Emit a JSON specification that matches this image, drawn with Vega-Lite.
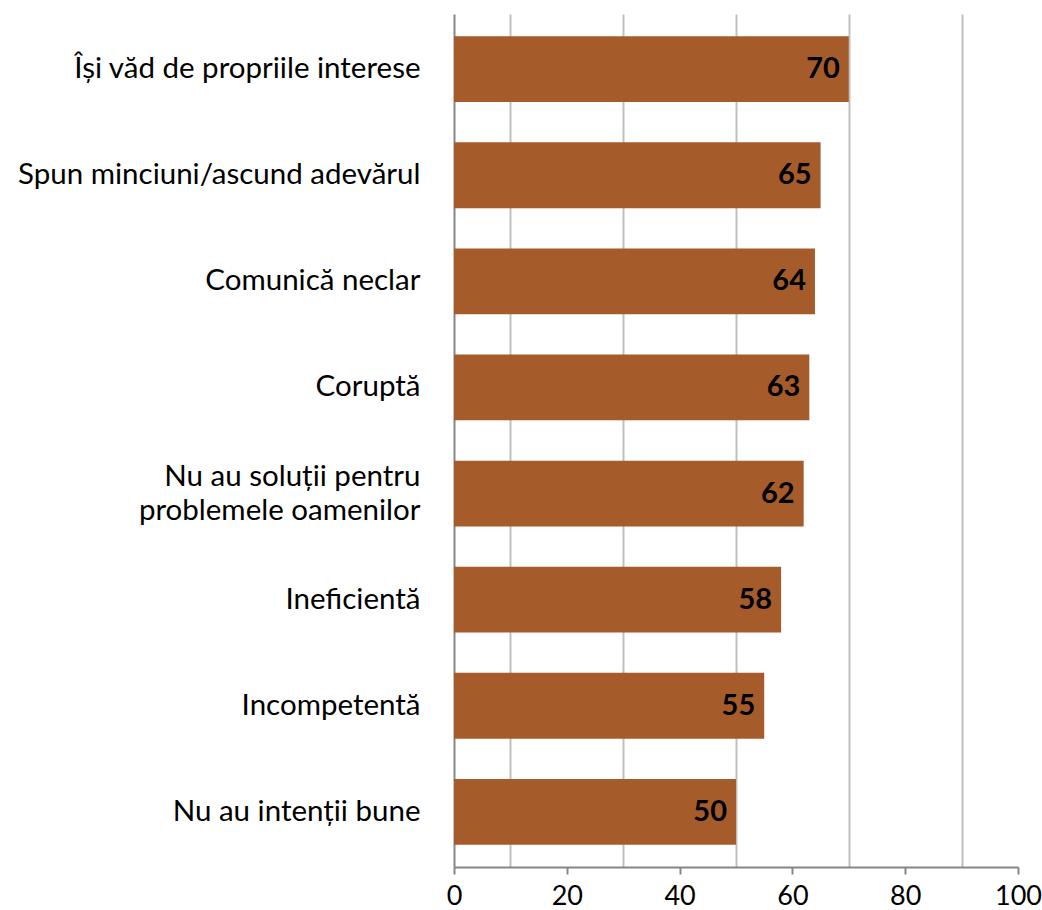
{
  "$schema": "https://vega.github.io/schema/vega-lite/v6.json",
  "width": 564,
  "height": 853,
  "autosize": {"type": "none"},
  "padding": {"left": 454, "top": 14, "right": 24, "bottom": 43},
  "background": "white",
  "config": {
    "view": {"stroke": null},
    "font": "Lato",
    "axis": {"labelFont": "Lato", "labelColor": "#000000"}
  },
  "data": {
    "values": [
      {"cat": "Își văd de propriile interese", "val": 70},
      {"cat": "Spun minciuni/ascund adevărul", "val": 65},
      {"cat": "Comunică neclar", "val": 64},
      {"cat": "Coruptă", "val": 63},
      {"cat": "Nu au soluții pentru\u00a0|problemele oamenilor", "val": 62},
      {"cat": "Ineficientă", "val": 58},
      {"cat": "Incompetentă", "val": 55},
      {"cat": "Nu au intenții bune", "val": 50}
    ]
  },
  "encoding": {
    "y": {
      "field": "cat",
      "type": "nominal",
      "sort": null,
      "scale": {"paddingInner": 0.38, "paddingOuter": 0.21},
      "axis": {
        "title": null,
        "ticks": false,
        "domain": true,
        "domainColor": "#868686",
        "domainWidth": 2,
        "labelFontSize": 29.5,
        "labelPadding": 34,
        "labelLimit": 500,
        "labelLineHeight": 34,
        "labelOffset": {"condition": {"test": "indexof(datum.value, '|') >= 0", "value": -17}, "value": 0},
        "labelExpr": "split(datum.value, '|')"
      }
    }
  },
  "layer": [
    {
      "mark": {"type": "bar", "color": "#A65B2B"},
      "encoding": {
        "x": {
          "field": "val",
          "type": "quantitative",
          "scale": {"domain": [0, 100], "nice": false},
          "axis": {
            "title": null,
            "values": [0, 20, 40, 60, 80, 100],
            "grid": false,
            "domainColor": "#868686",
            "domainWidth": 2,
            "tickColor": "#868686",
            "tickWidth": 2,
            "tickSize": 7,
            "labelFontSize": 27,
            "labelPadding": 9,
            "labelFlush": false
          }
        }
      }
    },
    {
      "mark": {"type": "text", "align": "right", "baseline": "middle", "dx": -9, "fontSize": 29, "fontWeight": "bold", "color": "#000000"},
      "encoding": {
        "x": {
          "field": "val",
          "type": "quantitative",
          "axis": {
            "orient": "top",
            "values": [10, 30, 50, 70, 90],
            "grid": true,
            "gridColor": "#BFBFBF",
            "gridWidth": 2,
            "labels": false,
            "ticks": false,
            "domain": false,
            "title": null
          }
        },
        "text": {"field": "val", "type": "quantitative"}
      }
    }
  ],
  "resolve": {"axis": {"x": "independent"}}
}
